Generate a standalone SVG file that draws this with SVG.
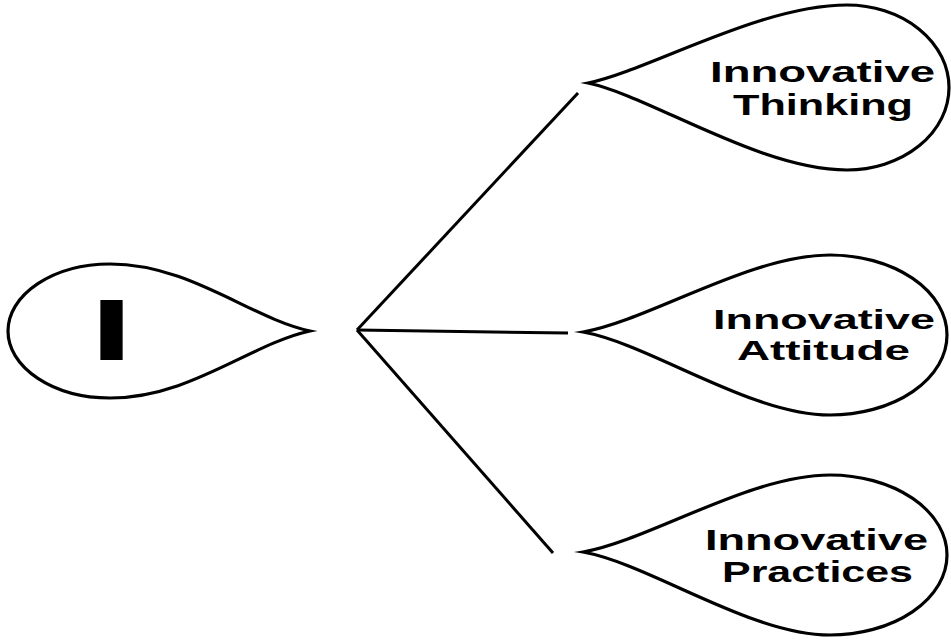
<svg xmlns="http://www.w3.org/2000/svg" width="951" height="641" viewBox="0 0 951 641">
<style>
.drop{fill:#fff;stroke:#000;stroke-width:3.2;stroke-linejoin:miter;stroke-miterlimit:20}
.lbl{font-family:"Liberation Sans",Arial,sans-serif;font-weight:bold;font-size:29px;fill:#000}
.conn line{stroke:#000;stroke-width:3;stroke-linecap:butt}
</style>
<rect width="951" height="641" fill="#fff"/>
<g class="conn" id="connectors">
<line x1="357" y1="330" x2="578" y2="93"/>
<line x1="357" y1="330" x2="568" y2="333"/>
<line x1="357" y1="330" x2="553" y2="553"/>
</g>
<g id="node-I">
<path class="drop" d="M310,331 C250,318 190,264 110,264 A102,67 0 0 0 110,398 C190,398 250,344 310,331 Z"/>
<text class="lbl" x="90" y="360" style="font-size:88px" textLength="43" lengthAdjust="spacingAndGlyphs">I</text>
</g>
<g id="node-thinking">
<path class="drop" d="M588,83 C650,70 760,5 847,5 A102,82.5 0 0 1 847,170 C760,170 650,96 588,83 Z"/>
<text class="lbl" x="710" y="82" textLength="225" lengthAdjust="spacingAndGlyphs">Innovative</text>
<text class="lbl" x="733" y="115" textLength="180" lengthAdjust="spacingAndGlyphs">Thinking</text>
</g>
<g id="node-attitude">
<path class="drop" d="M583,332 C650,320 750,255 830,255 A117,80 0 0 1 830,415 C750,415 650,344 583,332 Z"/>
<text class="lbl" x="713" y="328.5" style="font-size:27px" textLength="222" lengthAdjust="spacingAndGlyphs">Innovative</text>
<text class="lbl" x="737" y="359.5" style="font-size:27px" textLength="173" lengthAdjust="spacingAndGlyphs">Attitude</text>
</g>
<g id="node-practices">
<path class="drop" d="M583,552 C650,540 750,475 830,475 A117,80 0 0 1 830,635 C750,635 650,564 583,552 Z"/>
<text class="lbl" x="705" y="550" textLength="223" lengthAdjust="spacingAndGlyphs">Innovative</text>
<text class="lbl" x="722" y="582" textLength="191" lengthAdjust="spacingAndGlyphs">Practices</text>
</g>
</svg>
